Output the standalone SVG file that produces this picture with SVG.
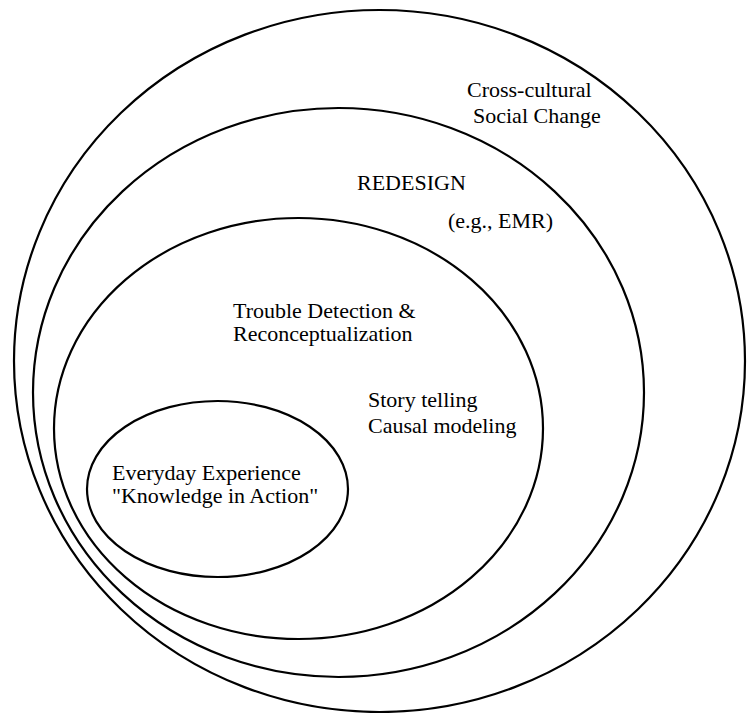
<svg xmlns="http://www.w3.org/2000/svg" width="747" height="713" viewBox="0 0 747 713">
<style>
.ring{fill:none;stroke:#000;stroke-width:2.2}
text{font-family:"Liberation Serif","Times New Roman",serif;font-size:22px;fill:#000}
</style>
<rect width="747" height="713" fill="#fff"/>
<g id="cross-cultural">
<ellipse class="ring" cx="379.5" cy="361" rx="365.5" ry="351"/>
<text x="467" y="97">Cross-cultural</text>
<text x="473" y="123">Social Change</text>
</g>
<g id="redesign">
<ellipse class="ring" cx="338.5" cy="392.5" rx="305.5" ry="284.5"/>
<text x="357" y="190">REDESIGN</text>
<text x="448" y="228">(e.g., EMR)</text>
</g>
<g id="trouble-detection">
<ellipse class="ring" cx="298.5" cy="428.5" rx="244.5" ry="210.5"/>
<text x="233" y="318">Trouble Detection &amp;</text>
<text x="233" y="341">Reconceptualization</text>
<text x="368" y="407">Story telling</text>
<text x="368" y="433">Causal modeling</text>
</g>
<g id="everyday-experience">
<ellipse class="ring" cx="217.5" cy="489" rx="130.5" ry="88"/>
<text x="112" y="480">Everyday Experience</text>
<text x="112" y="503">"Knowledge in Action"</text>
</g>
<g id="connectors"/>
</svg>
